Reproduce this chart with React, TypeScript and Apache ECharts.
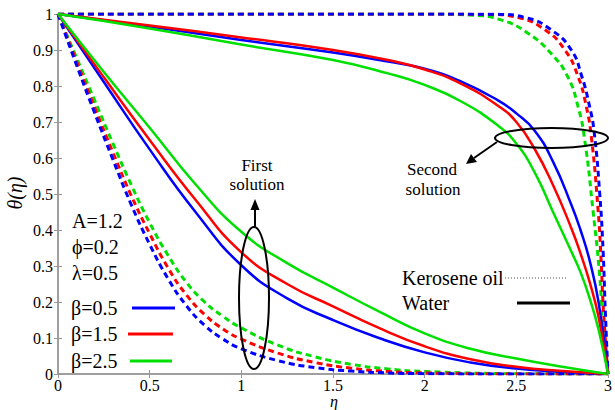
import React, { useEffect, useRef } from "react";
import * as echarts from "echarts";

// ---------- data ----------
const xTicks = [0, 0.5, 1, 1.5, 2, 2.5, 3];
const betaLabels = ["β=0.5", "β=1.5", "β=2.5"];
const paramLabels = ["A=1.2", "ϕ=0.2", "λ=0.5"];

// First solution, water (solid)
const etaFirstWater = [0, 0.25, 0.5, 0.75, 1.0, 1.25, 1.5, 1.75, 2.0, 2.25, 2.5, 2.75, 3];
const firstWaterB05 = [1, 0.811, 0.624, 0.45, 0.302, 0.21, 0.15, 0.1, 0.06, 0.032, 0.015, 0.006, 0];
const firstWaterB15 = [1, 0.824, 0.65, 0.484, 0.338, 0.25, 0.188, 0.128, 0.077, 0.041, 0.02, 0.008, 0];
const firstWaterB25 = [1, 0.839, 0.684, 0.527, 0.395, 0.308, 0.24, 0.174, 0.113, 0.07, 0.043, 0.02, 0];

// First solution, kerosene oil (dashed)
const etaFirstKero = [0, 0.1, 0.2, 0.3, 0.4, 0.5, 0.6, 0.7, 0.8, 0.9, 1.0, 1.2, 1.4, 1.6, 1.8, 2.0, 2.5, 3];
const firstKeroB05 = [1, 0.86, 0.725, 0.595, 0.47, 0.36, 0.265, 0.19, 0.135, 0.097, 0.07, 0.037, 0.018, 0.008, 0.003, 0.001, 0, 0];
const firstKeroB15 = [1, 0.87, 0.74, 0.615, 0.495, 0.39, 0.295, 0.22, 0.165, 0.125, 0.097, 0.058, 0.032, 0.016, 0.007, 0.003, 0, 0];
const firstKeroB25 = [1, 0.88, 0.76, 0.64, 0.525, 0.42, 0.33, 0.255, 0.2, 0.16, 0.128, 0.08, 0.048, 0.027, 0.014, 0.007, 0.001, 0];

// Second solution, water (solid)
const etaSecondWater = [0, 0.5, 1.0, 1.5, 1.8, 2.0, 2.2, 2.4, 2.5, 2.6, 2.7, 2.8, 2.85, 2.9, 2.95, 3];
const secondWaterB05 = [1, 0.965, 0.928, 0.893, 0.868, 0.848, 0.812, 0.76, 0.724, 0.676, 0.59, 0.47, 0.4, 0.315, 0.195, 0];
const secondWaterB15 = [1, 0.968, 0.935, 0.9, 0.872, 0.846, 0.806, 0.745, 0.7, 0.625, 0.525, 0.405, 0.335, 0.255, 0.155, 0];
const secondWaterB25 = [1, 0.96, 0.915, 0.872, 0.835, 0.803, 0.757, 0.69, 0.64, 0.56, 0.45, 0.34, 0.283, 0.21, 0.12, 0];

// Second solution, kerosene oil (dashed)
const etaSecondKeroB05 = [0, 2.0, 2.4, 2.55, 2.69, 2.8, 2.855, 2.9, 2.925, 2.955, 2.973, 2.985, 3];
const secondKeroB05 = [1, 1, 0.999, 0.99, 0.956, 0.9, 0.83, 0.742, 0.67, 0.5, 0.344, 0.178, 0];
const etaSecondKeroB15 = [0, 2.0, 2.35, 2.51, 2.656, 2.765, 2.837, 2.882, 2.91, 2.946, 2.962, 2.975, 3];
const secondKeroB15 = [1, 1, 0.999, 0.99, 0.956, 0.9, 0.826, 0.742, 0.655, 0.455, 0.32, 0.178, 0];
const etaSecondKeroB25 = [0, 2.0, 2.25, 2.42, 2.565, 2.69, 2.78, 2.837, 2.873, 2.918, 2.955, 2.973, 3];
const secondKeroB25 = [1, 1, 0.997, 0.983, 0.946, 0.89, 0.826, 0.742, 0.65, 0.455, 0.27, 0.12, 0];

// ---------- styles ----------
const BLUE = "#0000ff";
const RED = "#ff0000";
const GREEN = "#00e000";
const SERIF = "Liberation Serif";
const AXIS = "#999999";

function line(name: string, eta: number[], theta: number[], color: string, dashed: boolean) {
  return {
    name,
    type: "line",
    data: eta.map((e, i) => [e, theta[i]]),
    symbol: "none",
    smooth: 0.5,
    silent: true,
    lineStyle: dashed
      ? { color, width: 3, type: [6, 4] }
      : { color, width: 2.5, type: "solid" },
    z: dashed ? 2 : 3,
  };
}

export default function App() {
  const ref = useRef<HTMLDivElement>(null);
  useEffect(() => {
    if (!ref.current) return;
    const chart = echarts.init(ref.current, null, { renderer: "svg" });
    const axisCommon = {
      type: "value",
      splitLine: { show: false },
      axisLine: { show: true, lineStyle: { color: AXIS, width: 1.5 } },
      axisTick: { show: true, inside: true, length: 4, lineStyle: { color: AXIS } },
    };
    const legendColors = [BLUE, RED, GREEN];
    const legendY = [308, 334, 361];
    const legendX1 = [132, 128, 130];
    const legendX2 = [175, 173, 172];
    const paramY = [221, 247, 273];

    const graphics: any[] = [];
    paramLabels.forEach((t, i) => {
      graphics.push({
        type: "text",
        x: 72,
        y: paramY[i],
        style: { text: t, font: `20px "${SERIF}"`, fill: "#000", textVerticalAlign: "middle" },
      });
    });
    betaLabels.forEach((t, i) => {
      graphics.push({
        type: "text",
        x: 71,
        y: legendY[i],
        style: { text: t, font: `20px "${SERIF}"`, fill: "#000", textVerticalAlign: "middle" },
      });
      graphics.push({
        type: "line",
        shape: { x1: legendX1[i], y1: legendY[i], x2: legendX2[i], y2: legendY[i] },
        style: { stroke: legendColors[i], lineWidth: 3 },
      });
    });
    // right legend
    graphics.push(
      {
        type: "text",
        x: 402,
        y: 278,
        style: { text: "Kerosene oil", font: `20px "${SERIF}"`, fill: "#000", textVerticalAlign: "middle" },
      },
      {
        type: "line",
        shape: { x1: 505, y1: 278, x2: 567, y2: 278 },
        style: { stroke: "#888", lineWidth: 1.5, lineDash: [1, 2] },
      },
      {
        type: "text",
        x: 402,
        y: 303,
        style: { text: "Water", font: `20px "${SERIF}"`, fill: "#000", textVerticalAlign: "middle" },
      },
      {
        type: "line",
        shape: { x1: 517, y1: 303, x2: 570, y2: 303 },
        style: { stroke: "#000", lineWidth: 3 },
      }
    );
    // First solution annotation
    graphics.push(
      {
        type: "ellipse",
        shape: { cx: 254, cy: 298, rx: 15, ry: 71 },
        style: { fill: "none", stroke: "#000", lineWidth: 2 },
        z: 10,
      },
      {
        type: "line",
        shape: { x1: 255, y1: 227, x2: 255, y2: 208 },
        style: { stroke: "#000", lineWidth: 2 },
        z: 10,
      },
      {
        type: "polygon",
        shape: { points: [[250.5, 210], [259.5, 210], [255, 199]] },
        style: { fill: "#000" },
        z: 10,
      },
      {
        type: "text",
        x: 257,
        y: 165,
        style: { text: "First", font: `17px "${SERIF}"`, fill: "#000", textAlign: "center", textVerticalAlign: "middle" },
      },
      {
        type: "text",
        x: 257,
        y: 184,
        style: { text: "solution", font: `17px "${SERIF}"`, fill: "#000", textAlign: "center", textVerticalAlign: "middle" },
      }
    );
    // Second solution annotation
    graphics.push(
      {
        type: "ellipse",
        shape: { cx: 551.5, cy: 138, rx: 56.5, ry: 10 },
        style: { fill: "none", stroke: "#000", lineWidth: 2 },
        z: 10,
      },
      {
        type: "line",
        shape: { x1: 497, y1: 142, x2: 474, y2: 158 },
        style: { stroke: "#000", lineWidth: 2 },
        z: 10,
      },
      {
        type: "polygon",
        shape: { points: [[466, 164], [471, 154], [477, 162]] },
        style: { fill: "#000" },
        z: 10,
      },
      {
        type: "text",
        x: 432,
        y: 169,
        style: { text: "Second", font: `17px "${SERIF}"`, fill: "#000", textAlign: "center", textVerticalAlign: "middle" },
      },
      {
        type: "text",
        x: 433,
        y: 189,
        style: { text: "solution", font: `17px "${SERIF}"`, fill: "#000", textAlign: "center", textVerticalAlign: "middle" },
      }
    );
    // axis names
    graphics.push(
      {
        type: "text",
        x: 334,
        y: 401,
        style: { text: "η", font: `italic 16px "${SERIF}"`, fill: "#000", textAlign: "center", textVerticalAlign: "middle" },
      },
      {
        type: "text",
        x: 15,
        y: 193,
        rotation: Math.PI / 2,
        style: { text: "θ(η)", font: `italic 20px "${SERIF}"`, fill: "#000", textAlign: "center", textVerticalAlign: "middle" },
      }
    );

    chart.setOption({
      animation: false,
      backgroundColor: "#fff",
      grid: { left: 58, right: 5, top: 14, bottom: 36, containLabel: false },
      xAxis: [
        {
          ...axisCommon,
          position: "bottom",
          min: 0,
          max: 3,
          interval: 0.5,
          axisLabel: {
            color: "#000",
            fontFamily: SERIF,
            fontSize: 16,
            margin: 3,
            formatter: (v: number) => (xTicks.includes(v) ? String(v) : ""),
          },
        },
        {
          ...axisCommon,
          position: "top",
          min: 0,
          max: 3,
          interval: 0.5,
          axisLabel: { show: false },
        },
      ],
      yAxis: [
        {
          ...axisCommon,
          position: "left",
          min: 0,
          max: 1,
          interval: 0.1,
          axisLabel: {
            color: "#000",
            fontFamily: SERIF,
            fontSize: 16,
            margin: 5,
            formatter: (v: number) => String(Math.round(v * 10) / 10),
          },
        },
        {
          ...axisCommon,
          position: "right",
          min: 0,
          max: 1,
          interval: 0.1,
          axisLabel: { show: false },
        },
      ],
      series: [
        line("k1g", etaFirstKero, firstKeroB25, GREEN, true),
        line("k1r", etaFirstKero, firstKeroB15, RED, true),
        line("k1b", etaFirstKero, firstKeroB05, BLUE, true),
        line("k2g", etaSecondKeroB25, secondKeroB25, GREEN, true),
        line("k2r", etaSecondKeroB15, secondKeroB15, RED, true),
        line("k2b", etaSecondKeroB05, secondKeroB05, BLUE, true),
        line("w1b", etaFirstWater, firstWaterB05, BLUE, false),
        line("w1r", etaFirstWater, firstWaterB15, RED, false),
        line("w1g", etaFirstWater, firstWaterB25, GREEN, false),
        line("w2b", etaSecondWater, secondWaterB05, BLUE, false),
        line("w2r", etaSecondWater, secondWaterB15, RED, false),
        line("w2g", etaSecondWater, secondWaterB25, GREEN, false),
      ],
      graphic: graphics,
    });
    return () => chart.dispose();
  }, []);
  return (
    <div
      ref={ref}
      style={{ position: "absolute", left: 0, top: 0, width: 615, height: 410, background: "#fff" }}
    />
  );
}
